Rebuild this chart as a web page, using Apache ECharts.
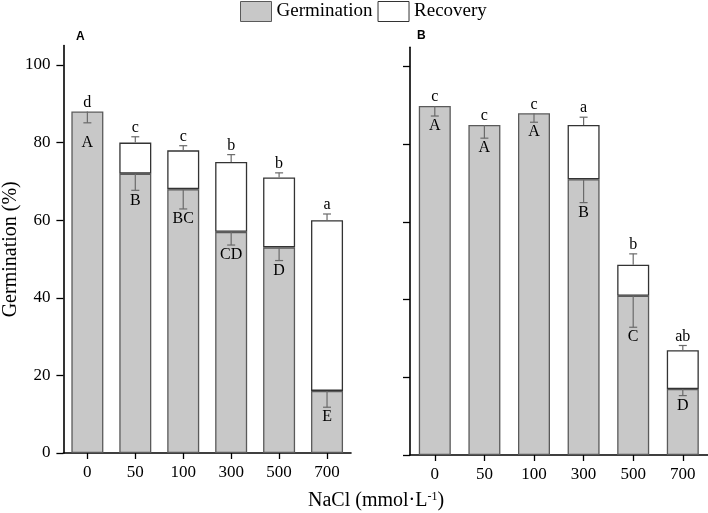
<!DOCTYPE html>
<html>
<head>
<meta charset="utf-8">
<script src="https://cdn.jsdelivr.net/npm/echarts@6/dist/echarts.min.js"></script>
<style>html,body{margin:0;padding:0;background:#fff}#chart{width:708px;height:513px}</style>
</head>
<body>
<div id="chart"></div>
<script>
const categories = ['0', '50', '100', '300', '500', '700'];
const yTicks = [0, 20, 40, 60, 80, 100];

const germA = [88, 72, 68, 57, 53, 16];
const recovA = [0, 8, 10, 18, 18, 44];
const germErrA = [2.9, 4.3, 5.1, 3.4, 3.4, 4.2];
const totalErrA = [0, 1.5, 1.2, 1.9, 1.2, 1.6];
const upperLettersA = ['d', 'c', 'c', 'b', 'b', 'a'];
const lowerLettersA = ['A', 'B', 'BC', 'CD', 'D', 'E'];

const germB = [89.9, 85, 88, 71, 41, 17];
const recovB = [0, 0, 0, 14, 8, 10];
const germErrB = [2.6, 3.4, 2.3, 6.0, 8.1, 1.7];
const totalErrB = [0, 0, 0, 2.0, 2.8, 1.2];
const upperLettersB = ['c', 'c', 'c', 'a', 'b', 'ab'];
const lowerLettersB = ['A', 'A', 'A', 'B', 'C', 'D'];

const SERIF = "'Liberation Serif', 'Times New Roman', serif";
const GRAY = '#c8c8c8';
const GRAY_BORDER = '#5a5a5a';
const WHITE_BORDER = '#333333';
const ERR_COLOR = '#6a6a6a';

function errSeries(idx, germ, recov, gErr, tErr, upL, loL, extraLowerOffset) {
  return {
    type: 'custom',
    xAxisIndex: idx, yAxisIndex: idx,
    z: 10,
    data: categories.map((c, i) => [i, germ[i], germ[i] + recov[i]]),
    encode: { x: 0, y: [1, 2] },
    renderItem: function (params, api) {
      const i = params.dataIndex;
      const g = germ[i], t = germ[i] + recov[i];
      const gTop = api.coord([i, g]);
      const gBot = api.coord([i, g - gErr[i]]);
      const tTop = api.coord([i, t]);
      const tUp = api.coord([i, t + tErr[i]]);
      const x = gTop[0];
      const cap = 4;
      const ls = { stroke: ERR_COLOR, lineWidth: 1.2 };
      const children = [
        { type: 'line', shape: { x1: x, y1: gTop[1], x2: x, y2: gBot[1] }, style: ls },
        { type: 'line', shape: { x1: x - cap, y1: gBot[1], x2: x + cap, y2: gBot[1] }, style: ls }
      ];
      let upperY = tTop[1];
      if (tErr[i] > 0) {
        children.push({ type: 'line', shape: { x1: x, y1: tTop[1], x2: x, y2: tUp[1] }, style: ls });
        children.push({ type: 'line', shape: { x1: x - cap, y1: tUp[1], x2: x + cap, y2: tUp[1] }, style: ls });
        upperY = tUp[1];
      }
      children.push({ type: 'text', style: { text: upL[i], x: x, y: upperY - 1, align: 'center', verticalAlign: 'bottom', font: '16px ' + SERIF, fill: '#000' } });
      const off = 10 + ((extraLowerOffset && extraLowerOffset[i]) || 0);
      children.push({ type: 'text', style: { text: loL[i], x: x, y: gBot[1] + off, align: 'center', verticalAlign: 'middle', font: '16px ' + SERIF, fill: '#000' } });
      return { type: 'group', children: children };
    }
  };
}

function barSeries(idx, name, vals, color, border) {
  return {
    type: 'bar', name: name, stack: 'p' + idx,
    xAxisIndex: idx, yAxisIndex: idx,
    barWidth: 32,
    itemStyle: { color: color, borderColor: border, borderWidth: 1.3 },
    data: vals.map(v => v === 0 ? null : v)
  };
}

const axisLineStyle = { show: true, lineStyle: { color: '#000', width: 1.6 } };

function xAxisCfg(idx) {
  return {
    type: 'category', gridIndex: idx, data: categories,
    axisLine: axisLineStyle,
    axisTick: { show: true, alignWithLabel: true, length: 6, lineStyle: { color: '#000', width: 1.3 } },
    axisLabel: { color: '#000', fontFamily: SERIF, fontSize: 17, margin: 11 },
    splitLine: { show: false }
  };
}
function yAxisCfg(idx, withLabels) {
  const c = {
    type: 'value', gridIndex: idx, min: 0, max: 105, interval: 20,
    axisLine: axisLineStyle,
    axisTick: { show: true, length: 7, customValues: yTicks, lineStyle: { color: '#000', width: 1.3 } },
    axisLabel: { show: withLabels, customValues: yTicks, color: '#000', fontFamily: SERIF, fontSize: 17, margin: 13 },
    splitLine: { show: false }
  };
  if (withLabels) {
    c.name = 'Germination (%)';
    c.nameLocation = 'middle';
    c.nameGap = 42;
    c.nameTextStyle = { color: '#000', fontFamily: SERIF, fontSize: 20 };
  }
  return c;
}

const chart = echarts.init(document.getElementById('chart'), null, { renderer: 'canvas' });
chart.setOption({
  animation: false,
  backgroundColor: '#fff',
  legend: {
    left: 240, top: 1, padding: 0,
    itemWidth: 31, itemHeight: 20, itemGap: 5,
    textStyle: { color: '#000', fontFamily: SERIF, fontSize: 19 },
    data: [
      { name: 'Germination', icon: 'rect', itemStyle: { color: GRAY, borderColor: GRAY_BORDER, borderWidth: 1 } },
      { name: 'Recovery', icon: 'rect', itemStyle: { color: '#fff', borderColor: WHITE_BORDER, borderWidth: 1 } }
    ]
  },
  grid: [
    { left: 63, top: 45.6, width: 288, height: 407.4 },
    { left: 410, top: 47.3, width: 297.6, height: 407.7 }
  ],
  xAxis: [xAxisCfg(0), xAxisCfg(1)],
  yAxis: [yAxisCfg(0, true), yAxisCfg(1, false)],
  graphic: [
    { type: 'text', left: 76, top: 31, style: { text: 'A', font: 'bold 12px "Liberation Sans", Arial, sans-serif', fill: '#000' } },
    { type: 'text', left: 417, top: 30, style: { text: 'B', font: 'bold 12px "Liberation Sans", Arial, sans-serif', fill: '#000' } },
    { type: 'text', left: 308, top: 491, style: {
        text: '{m|NaCl (mmol·L}{s|-1}{m|)}',
        rich: {
          m: { fontFamily: SERIF, fontSize: 20, fill: '#000', color: '#000' },
          s: { fontFamily: SERIF, fontSize: 12, fill: '#000', color: '#000', verticalAlign: 'top', padding: [0, 0, 8, 0] }
        }
      } }
  ],
  series: [
    barSeries(0, 'Germination', germA, GRAY, GRAY_BORDER),
    barSeries(0, 'Recovery', recovA, '#fff', WHITE_BORDER),
    barSeries(1, 'Germination', germB, GRAY, GRAY_BORDER),
    barSeries(1, 'Recovery', recovB, '#fff', WHITE_BORDER),
    errSeries(0, germA, recovA, germErrA, totalErrA, upperLettersA, lowerLettersA, { 0: 10 }),
    errSeries(1, germB, recovB, germErrB, totalErrB, upperLettersB, lowerLettersB, null)
  ]
});
</script>
</body>
</html>
